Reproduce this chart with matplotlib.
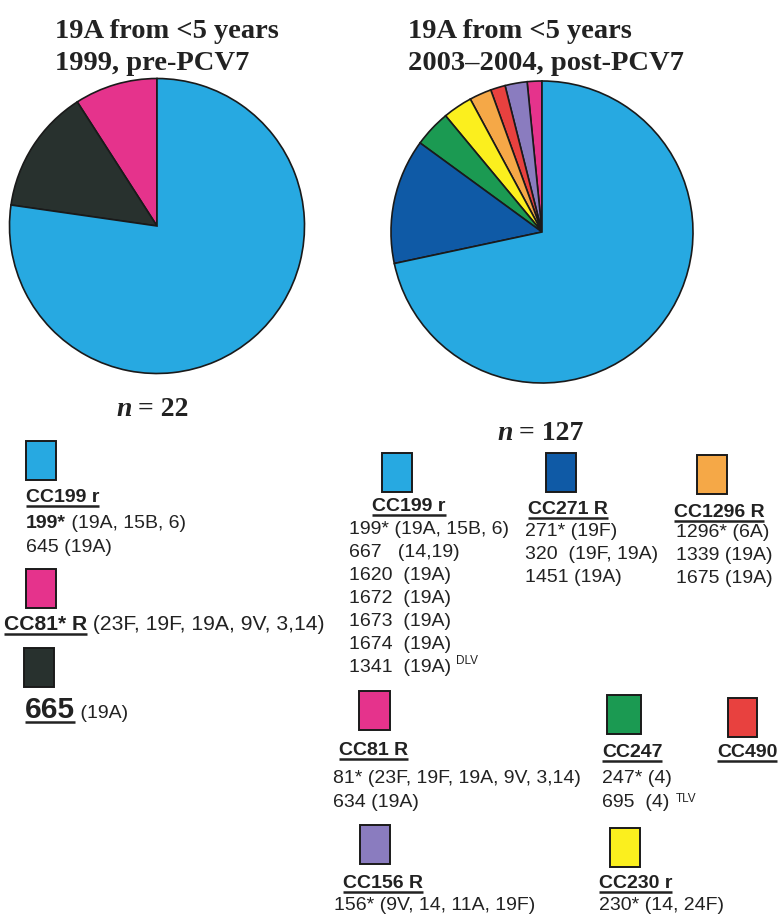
import matplotlib
matplotlib.use("Agg")
import matplotlib.pyplot as plt
from matplotlib.patches import Rectangle

# clonal complex colours
BLUE = "#27a9e1"
PINK = "#e5338c"
DARK = "#28312e"
NAVY = "#0f5aa6"
GREEN = "#1b9a52"
YELLOW = "#fbef1e"
ORANGE = "#f5a847"
RED = "#e8413f"
PURPLE = "#8a7cbf"
INK = "#222222"

SANS = "Liberation Sans"
SERIF = "Liberation Serif"

# isolate counts per clonal complex, in pie order starting at 12 o'clock
pre_counts = [2, 3, 17]                       # CC81, 665, CC199
pre_colors = [PINK, DARK, BLUE]
post_counts = [2, 3, 2, 3, 4, 5, 17, 91]      # CC81, CC156, CC490, CC1296, CC230, CC247, CC271, CC199
post_colors = [PINK, PURPLE, RED, ORANGE, YELLOW, GREEN, NAVY, BLUE]

pre_title = ["19A from <5 years", "1999, pre-PCV7"]
post_title = ["19A from <5 years", "2003\u20132004, post-PCV7"]

# sequence types (serotypes) listed under each clonal complex
pre_cc199 = ["645 (19A)"]
post_cc199 = ["199* (19A, 15B, 6)", "667   (14,19)", "1620  (19A)", "1672  (19A)",
              "1673  (19A)", "1674  (19A)", "1341  (19A)"]
post_cc271 = ["271* (19F)", "320  (19F, 19A)", "1451 (19A)"]
post_cc1296 = ["1296* (6A)", "1339 (19A)", "1675 (19A)"]
post_cc81 = ["81* (23F, 19F, 19A, 9V, 3,14)", "634 (19A)"]
post_cc247 = ["247* (4)", "695  (4)"]
post_cc156 = ["156* (9V, 14, 11A, 19F)"]
post_cc230 = ["230* (14, 24F)"]

W, H = 779, 914
fig = plt.figure(figsize=(W / 100, H / 100), dpi=100)
ax = fig.add_axes([0, 0, 1, 1])
ax.set_xlim(0, W)
ax.set_ylim(H, 0)
ax.axis("off")
renderer = fig.canvas.get_renderer()


def text(x, y, s, size=14, weight="normal", style="normal", family=SANS,
         underline=False, ha="left"):
    t = ax.text(x, y, s, fontsize=size, fontweight=weight, fontstyle=style,
                family=family, ha=ha, va="baseline", color=INK)
    bb = t.get_window_extent(renderer)
    inv = ax.transData.inverted()
    (x0, _), (x1, _) = inv.transform([[bb.x0, bb.y0], [bb.x1, bb.y1]])
    if underline:
        ax.plot([x0, x1], [y + 4, y + 4], color=INK, lw=1.8,
                solid_capstyle="butt")
    return x1


def box(x, y, color, w=30, h=39):
    ax.add_patch(Rectangle((x, y), w, h, facecolor=color, edgecolor="#1a1a1a",
                           lw=1.4))


def lines(x, y0, rows, step=23, size=14):
    end = x
    for i, s in enumerate(rows):
        end = text(x, y0 + i * step, s, size=size)
    return end


def pie(cx, cy, r, counts, colors):
    m = 1.01
    pa = fig.add_axes([(cx - r * m) / W, 1 - (cy + r * m) / H,
                       2 * r * m / W, 2 * r * m / H])
    pa.pie(counts, colors=colors, startangle=90, counterclock=True,
           wedgeprops=dict(edgecolor="#1a1a1a", linewidth=1.2))
    pa.set_xlim(-m, m)
    pa.set_ylim(-m, m)
    pa.axis("off")


# titles
for i, s in enumerate(pre_title):
    text(55, 38 + i * 32, s, size=20.5, weight="bold", family=SERIF)
for i, s in enumerate(post_title):
    text(408, 38 + i * 32, s, size=20.5, weight="bold", family=SERIF)

pie(157, 226, 147.5, pre_counts, pre_colors)
pie(542, 232, 151, post_counts, post_colors)

# sample sizes
x = text(116, 416, "n", size=20, weight="bold", style="italic", family=SERIF)
text(x, 416, " = %d" % sum(pre_counts), size=20, weight="bold", family=SERIF)
x = text(497, 440, "n", size=20, weight="bold", style="italic", family=SERIF)
text(x, 440, " = %d" % sum(post_counts), size=20, weight="bold", family=SERIF)

# pre-PCV7 key
box(26, 441, BLUE)
text(26, 502, "CC199 r", weight="bold", underline=True)
x = text(26, 528, "199*", weight="bold")
text(x, 528, " (19A, 15B, 6)")
lines(26, 552, pre_cc199)

box(26, 569, PINK)
x = text(4, 630, "CC81* R", size=15.2, weight="bold", underline=True)
text(x, 630, " (23F, 19F, 19A, 9V, 3,14)", size=15.2)

box(24, 648, DARK)
x = text(25, 718, "665", size=21.5, weight="bold", underline=True)
text(x, 718, " (19A)")

# post-PCV7 key
box(382, 453, BLUE)
text(409, 511, "CC199 r", weight="bold", underline=True, ha="center")
x = lines(349, 534, post_cc199)
text(x + 5, 664, "DLV", size=8.5)

box(546, 453, NAVY)
text(568, 514, "CC271 R", weight="bold", underline=True, ha="center")
lines(525, 536, post_cc271)

box(697, 455, ORANGE)
text(719, 517, "CC1296 R", weight="bold", underline=True, ha="center")
lines(676, 537, post_cc1296)

box(359, 691, PINK, w=31)
text(339, 755, "CC81 R", weight="bold", underline=True)
lines(333, 783, post_cc81, step=24)

box(607, 695, GREEN, w=34)
text(602, 757, "CC247", weight="bold", underline=True)
x = lines(602, 783, post_cc247, step=24)
text(x + 6, 802, "TLV", size=8.5)

box(728, 698, RED, w=29)
text(717, 757, "CC490", weight="bold", underline=True)

box(360, 825, PURPLE)
text(343, 888, "CC156 R", weight="bold", underline=True)
lines(334, 910, post_cc156)

box(610, 828, YELLOW)
text(599, 888, "CC230 r", weight="bold", underline=True)
lines(599, 910, post_cc230)

fig.savefig("out.png", dpi=100)
